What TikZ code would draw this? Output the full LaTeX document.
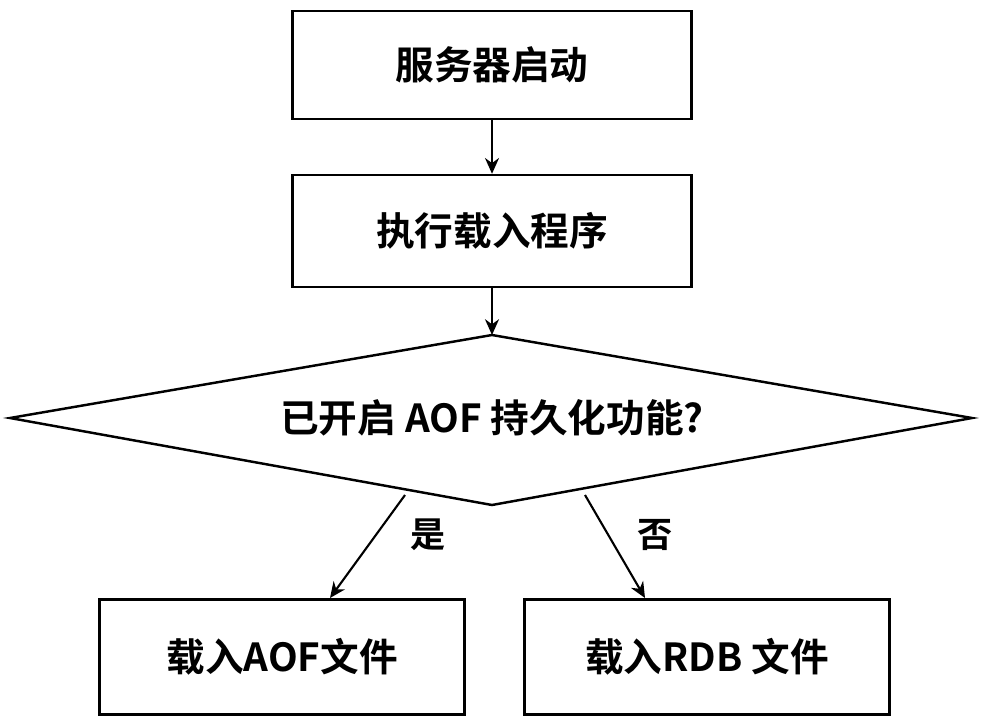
\documentclass[tikz,border=0pt]{standalone}
\usepackage{fontspec}
\setmainfont{Liberation Serif}
\newfontfamily\cjk{Noto Sans CJK SC}[BoldFont={* Bold}]
\usetikzlibrary{arrows.meta}
\begin{document}
\begin{tikzpicture}[x=0.02cm,y=-0.02cm,
  box/.style={draw,line width=1.4pt,minimum width=7.98cm,minimum height=2.15cm,font=\cjk\bfseries\fontsize{22}{24}\selectfont},
  sbox/.style={draw,line width=1.4pt,minimum width=7.3cm,minimum height=2.3cm,font=\cjk\bfseries\fontsize{22}{24}\selectfont},
  arr/.style={line width=1.2pt,-{Stealth[length=9pt,width=8pt]}},
  lbl/.style={font=\cjk\bfseries\fontsize{20}{22}\selectfont}]
\useasboundingbox (0,0) rectangle (982,720);
\node[box] (start) at (492,65) {服务器启动};
\node[box,minimum height=2.24cm] (load) at (492,231) {执行载入程序};
\coordinate (dt) at (492,335);
\coordinate (dl) at (10,418);
\coordinate (db) at (492,505);
\coordinate (dr) at (972,418);
\draw[line width=1.4pt] (dt) -- (dr) -- (db) -- (dl) -- cycle;
\node[font=\cjk\bfseries\fontsize{22}{24}\selectfont] (q) at (492,418) {已开启 AOF 持久化功能?};
\node[sbox] (aof) at (282,657) {载入AOF文件};
\node[sbox] (rdb) at (707,657) {载入RDB 文件};
\coordinate (y0) at (405,495);
\coordinate (n0) at (585,495);
\draw[arr] (start) -- (load);
\draw[arr] (load) -- (dt);
\draw[arr] (y0) -- (330,598) coordinate (y1);
\draw[arr] (n0) -- (645,598) coordinate (n1);
\node[lbl] (yes) at (428,535) {是};
\node[lbl] (no) at (655,535) {否};
\end{tikzpicture}
\end{document}
